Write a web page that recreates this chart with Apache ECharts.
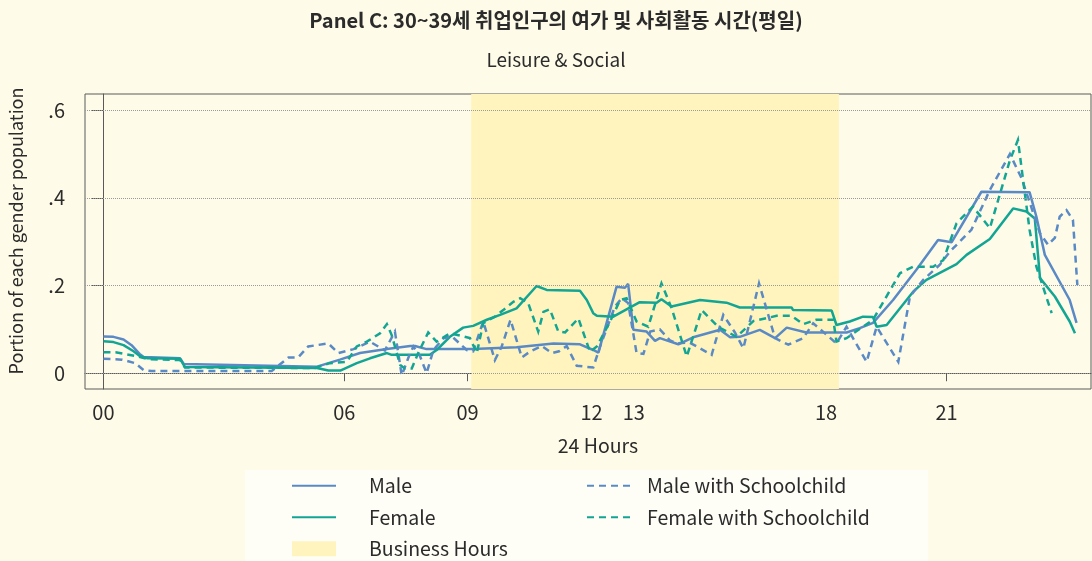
<!DOCTYPE html>
<html>
<head>
<meta charset="utf-8">
<script src="https://cdn.jsdelivr.net/npm/echarts@6/dist/echarts.min.js"></script>
<style>
html,body{margin:0;padding:0;background:#FEFBE8;}
#chart{width:1092px;height:561px;}
</style>
</head>
<body>
<div id="chart"></div>
<script>
// ---- Data (x = hour of day, y = portion of each gender population) ----
const maleHours = [0, 0.25, 0.5, 0.7, 0.9, 1.0, 1.91, 2.0, 5.32, 5.89, 6.39, 7.06, 7.64, 7.76, 8.05, 9.21, 10.29, 11.21, 11.87, 12.20, 12.33, 12.78, 12.99, 13.07, 13.20, 13.53, 13.74, 13.86, 13.99, 14.32, 14.69, 15.36, 15.61, 15.85, 16.35, 16.73, 17.02, 17.51, 18.51, 18.84, 19.17, 19.67, 20.25, 20.79, 21.13, 21.87, 23.07, 23.24, 23.45, 24.07, 24.24];
const maleValues = [0.084, 0.083, 0.077, 0.064, 0.044, 0.037, 0.034, 0.021, 0.015, 0.031, 0.046, 0.055, 0.062, 0.062, 0.055, 0.055, 0.059, 0.068, 0.066, 0.053, 0.047, 0.197, 0.195, 0.204, 0.099, 0.095, 0.074, 0.080, 0.076, 0.066, 0.082, 0.099, 0.082, 0.083, 0.099, 0.080, 0.104, 0.093, 0.093, 0.103, 0.115, 0.167, 0.236, 0.304, 0.299, 0.414, 0.413, 0.357, 0.270, 0.167, 0.115];

const femaleHours = [0, 0.25, 0.5, 0.75, 0.92, 1.1, 1.91, 2.03, 5.32, 5.6, 5.9, 6.31, 6.64, 7.06, 7.18, 8.13, 8.30, 8.63, 8.96, 9.21, 9.55, 9.88, 10.29, 10.79, 11.04, 11.87, 12.04, 12.20, 12.29, 12.70, 13.36, 13.78, 13.90, 14.15, 14.86, 15.52, 15.85, 17.14, 17.18, 18.14, 18.26, 18.59, 18.92, 19.17, 19.26, 19.51, 20.17, 20.50, 21.25, 21.50, 22.08, 22.66, 22.99, 23.20, 23.33, 23.70, 24.07, 24.20];
const femaleValues = [0.073, 0.071, 0.064, 0.050, 0.038, 0.034, 0.033, 0.014, 0.012, 0.006, 0.006, 0.023, 0.034, 0.046, 0.042, 0.042, 0.053, 0.083, 0.104, 0.108, 0.122, 0.133, 0.148, 0.199, 0.190, 0.188, 0.167, 0.137, 0.131, 0.129, 0.162, 0.161, 0.169, 0.152, 0.167, 0.161, 0.150, 0.150, 0.144, 0.143, 0.110, 0.118, 0.129, 0.128, 0.106, 0.110, 0.186, 0.213, 0.249, 0.270, 0.306, 0.376, 0.369, 0.353, 0.217, 0.175, 0.118, 0.091];

const maleSchHours = [0, 0.46, 0.79, 1.0, 1.2, 4.19, 4.61, 4.85, 5.10, 5.60, 5.85, 6.23, 6.64, 7.01, 7.26, 7.43, 7.59, 7.72, 7.88, 8.05, 8.22, 8.47, 8.68, 9.05, 9.21, 9.46, 9.75, 9.92, 10.14, 10.42, 10.62, 10.92, 11.17, 11.35, 11.54, 11.79, 12.20, 12.37, 12.74, 12.91, 13.07, 13.28, 13.45, 13.62, 13.86, 14.11, 14.28, 14.60, 15.15, 15.44, 15.73, 15.94, 16.33, 16.73, 17.06, 17.43, 17.68, 18.26, 18.51, 19.01, 19.26, 19.80, 20.09, 20.42, 20.83, 21.08, 21.62, 22.08, 22.58, 22.87, 23.33, 23.53, 23.70, 23.82, 23.99, 24.15, 24.26];
const maleSchValues = [0.033, 0.031, 0.023, 0.007, 0.005, 0.005, 0.036, 0.036, 0.061, 0.068, 0.046, 0.055, 0.072, 0.052, 0.095, -0.005, 0.034, 0.061, 0.040, 0.000, 0.053, 0.080, 0.084, 0.053, 0.050, 0.118, 0.030, 0.061, 0.122, 0.036, 0.049, 0.062, 0.046, 0.050, 0.062, 0.017, 0.013, 0.061, 0.152, 0.171, 0.160, 0.046, 0.044, 0.095, 0.100, 0.075, 0.068, 0.070, 0.042, 0.133, 0.093, 0.057, 0.205, 0.080, 0.065, 0.080, 0.114, 0.068, 0.106, 0.026, 0.106, 0.026, 0.175, 0.213, 0.247, 0.277, 0.327, 0.418, 0.500, 0.445, 0.319, 0.293, 0.309, 0.357, 0.372, 0.350, 0.201];

const femaleSchHours = [0, 0.3, 0.87, 1.12, 1.91, 2.03, 5.27, 5.64, 6.06, 6.31, 6.56, 6.89, 7.06, 7.18, 7.39, 7.51, 7.68, 7.84, 8.09, 8.30, 8.63, 8.93, 9.13, 9.30, 9.46, 9.75, 9.96, 10.21, 10.38, 10.58, 10.83, 10.96, 11.12, 11.33, 11.50, 11.83, 12.12, 12.29, 12.62, 12.87, 13.03, 13.28, 13.57, 13.90, 14.15, 14.53, 14.90, 15.31, 15.77, 16.19, 16.77, 17.14, 17.43, 17.76, 18.18, 18.26, 18.51, 19.17, 19.84, 20.17, 20.67, 20.92, 21.25, 21.66, 22.08, 22.58, 22.78, 23.07, 23.24, 23.62];
const femaleSchValues = [0.048, 0.048, 0.038, 0.032, 0.030, 0.013, 0.012, 0.023, 0.026, 0.061, 0.072, 0.091, 0.112, 0.087, 0.019, 0.011, 0.011, 0.046, 0.093, 0.072, 0.091, 0.085, 0.080, 0.046, 0.114, 0.129, 0.144, 0.163, 0.171, 0.160, 0.095, 0.140, 0.146, 0.095, 0.093, 0.125, 0.049, 0.061, 0.118, 0.167, 0.171, 0.118, 0.106, 0.205, 0.149, 0.038, 0.144, 0.106, 0.083, 0.119, 0.131, 0.131, 0.112, 0.122, 0.122, 0.072, 0.080, 0.122, 0.228, 0.243, 0.243, 0.258, 0.342, 0.380, 0.331, 0.486, 0.532, 0.327, 0.243, 0.137];

const businessHours = [9.16, 18.32];

const xTickValues = [0, 6, 9.07, 12.16, 13.21, 18, 21];
const xTickLabels = ['00', '06', '09', '12', '13', '18', '21'];
const yTickValues = [0, 0.2, 0.4, 0.6];
const yTickLabels = ['0', '.2', '.4', '.6'];

const titleText = 'Panel C: 30~39세 취업인구의 여가 및 사회활동 시간(평일)';
const subtitleText = 'Leisure & Social';
const xAxisTitle = '24 Hours';
const yAxisTitle = 'Portion of each gender population';

// ---- Styling ----
const FONT = "'Noto Sans CJK KR', 'Noto Sans', sans-serif";
const BLUE = '#5A8AC6';
const TEAL = '#12A594';
const SHADE = '#FFF4BE';
const TEXT = '#2b2b2b';

function zip(xs, ys) { return xs.map((x, i) => [x, ys[i]]); }
function labelFor(values, labels) {
  return function (v) {
    for (let i = 0; i < values.length; i++) if (Math.abs(values[i] - v) < 1e-6) return labels[i];
    return '';
  };
}

const chart = echarts.init(document.getElementById('chart'), null, { renderer: 'canvas' });

const lineBase = { type: 'line', showSymbol: false, symbol: 'none', z: 3, animation: false };
const noSymbol = { color: 'transparent', borderWidth: 0, opacity: 0 };

chart.setOption({
  backgroundColor: '#FEFBE8',
  animation: false,
  textStyle: { fontFamily: FONT },
  grid: { left: 85, top: 94, width: 1006, height: 295, show: true, borderColor: '#5a5a5a', borderWidth: 1, backgroundColor: 'transparent' },
  xAxis: {
    type: 'value', min: -0.46, max: 24.6,
    axisLine: { show: true, lineStyle: { color: '#5a5a5a', width: 1 } },
    axisTick: { show: true, length: 8, customValues: xTickValues, lineStyle: { color: '#5a5a5a' } },
    axisLabel: { customValues: xTickValues, formatter: labelFor(xTickValues, xTickLabels), fontSize: 20, color: TEXT, margin: 13, fontFamily: FONT },
    splitLine: { show: false }
  },
  yAxis: {
    type: 'value', min: -0.036, max: 0.637,
    axisLine: { show: true, lineStyle: { color: '#5a5a5a', width: 1 } },
    axisTick: { show: true, length: 12, customValues: yTickValues, lineStyle: { color: '#5a5a5a' } },
    axisLabel: { customValues: yTickValues, formatter: labelFor(yTickValues, yTickLabels), fontSize: 20, color: TEXT, margin: 20, fontFamily: FONT },
    splitLine: { show: false }
  },
  legend: [
    {
      orient: 'vertical', left: 291, top: 476, height: 90, padding: 0, itemWidth: 44, itemHeight: 15, itemGap: 12,
      selectedMode: false,
      textStyle: { fontSize: 19.5, color: TEXT, fontFamily: FONT, padding: [0, 0, 0, 28], lineHeight: 15 },
      data: [
        { name: 'Male', itemStyle: noSymbol },
        { name: 'Female', itemStyle: noSymbol },
        { name: 'Business Hours', icon: 'rect', itemStyle: { color: SHADE } }
      ]
    },
    {
      orient: 'vertical', left: 586, top: 476, height: 90, padding: 0, itemWidth: 45, itemHeight: 15, itemGap: 12,
      selectedMode: false,
      textStyle: { fontSize: 19.5, color: TEXT, fontFamily: FONT, padding: [0, 0, 0, 10], lineHeight: 15 },
      data: [
        { name: 'Male with Schoolchild', itemStyle: noSymbol },
        { name: 'Female with Schoolchild', itemStyle: noSymbol }
      ]
    }
  ],
  graphic: [
    { type: 'rect', z: 0, shape: { x: 245, y: 470, width: 683, height: 100 }, style: { fill: '#FFFEF6' }, silent: true },
    { type: 'text', x: 556, y: 20, style: { text: titleText, font: "bold 20px " + FONT, fill: TEXT, textAlign: 'center', textVerticalAlign: 'middle' } },
    { type: 'text', x: 556, y: 60, style: { text: subtitleText, font: "19px " + FONT, fill: TEXT, textAlign: 'center', textVerticalAlign: 'middle' } },
    { type: 'text', x: 598, y: 446, style: { text: xAxisTitle, font: "19.5px " + FONT, fill: TEXT, textAlign: 'center', textVerticalAlign: 'middle' } },
    { type: 'text', x: 16, y: 231, rotation: Math.PI / 2, style: { text: yAxisTitle, font: "18px " + FONT, fill: TEXT, textAlign: 'center', textVerticalAlign: 'middle' } }
  ],
  series: [
    {
      name: 'Business Hours', type: 'line', data: [], z: 1, symbol: 'none',
      color: SHADE, itemStyle: { color: SHADE }, lineStyle: { color: SHADE },
      markArea: {
        silent: true, itemStyle: { color: SHADE },
        data: [[{ xAxis: businessHours[0] }, { xAxis: businessHours[1] }]]
      },
      markLine: {
        silent: true, symbol: ['none', 'none'], label: { show: false },
        lineStyle: { type: 'dotted', color: '#9a9a9a', width: 1 },
        emphasis: { disabled: true },
        data: yTickValues.map(v => ({ yAxis: v }))
      }
    },
    Object.assign({}, lineBase, { name: 'Male', data: zip(maleHours, maleValues), color: BLUE, lineStyle: { color: BLUE, width: 2.5 } }),
    Object.assign({}, lineBase, { name: 'Female', data: zip(femaleHours, femaleValues), color: TEAL, lineStyle: { color: TEAL, width: 2.5 } }),
    Object.assign({}, lineBase, { name: 'Male with Schoolchild', data: zip(maleSchHours, maleSchValues), color: BLUE, lineStyle: { color: BLUE, width: 2.5, type: [7, 5], join: 'miter' } }),
    Object.assign({}, lineBase, { name: 'Female with Schoolchild', data: zip(femaleSchHours, femaleSchValues), color: TEAL, lineStyle: { color: TEAL, width: 2.5, type: [7, 5], join: 'miter' } })
  ]
});
</script>
</body>
</html>
